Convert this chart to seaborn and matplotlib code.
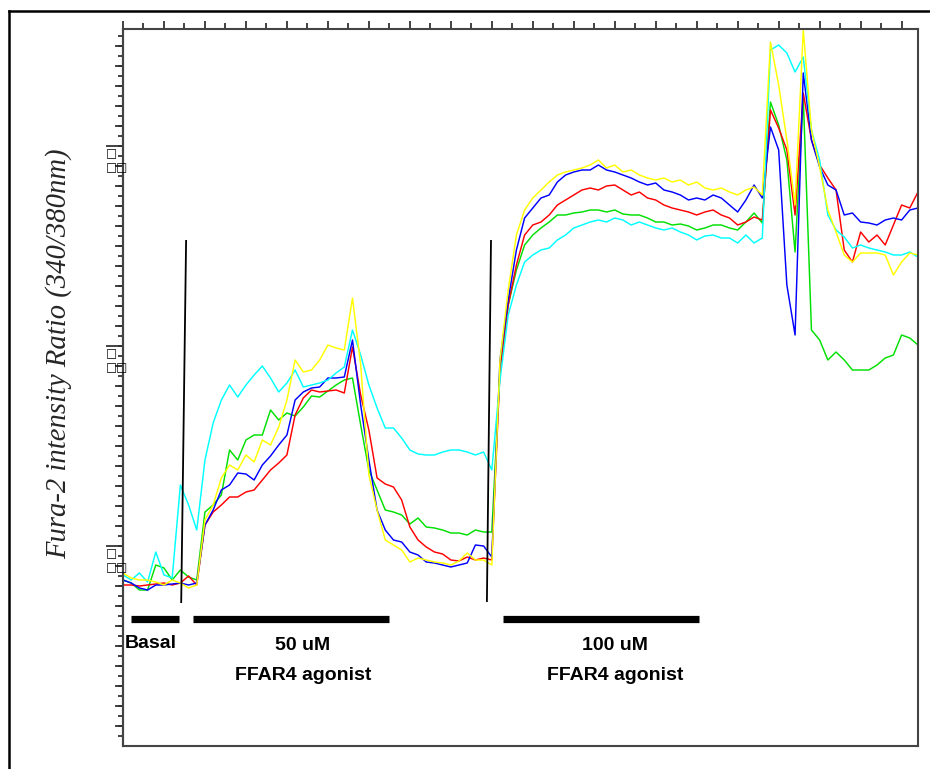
import numpy as np
import pandas as pd
import matplotlib
matplotlib.use("Agg")
import matplotlib.pyplot as plt
from matplotlib.lines import Line2D
from matplotlib.ticker import MultipleLocator, NullFormatter, FixedLocator
import matplotlib.transforms as mtransforms
import seaborn as sns

# ---------------- data (frame index vs Fura-2 340/380 ratio) ----------------
frames = list(range(0, 196, 2))

yellow = [0.573, 0.568, 0.566, 0.566, 0.564, 0.561, 0.566, 0.563, 0.558, 0.561,
          0.626, 0.641, 0.668, 0.681, 0.676, 0.691, 0.684, 0.706, 0.701, 0.719,
          0.746, 0.786, 0.774, 0.776, 0.786, 0.801, 0.798, 0.796, 0.848, 0.781,
          0.671, 0.636, 0.606, 0.601, 0.596, 0.584, 0.588, 0.586, 0.584, 0.583,
          0.581, 0.585, 0.593, 0.586, 0.586, 0.581, 0.786, 0.856, 0.911, 0.936,
          0.948, 0.956, 0.964, 0.971, 0.974, 0.976, 0.978, 0.981, 0.986, 0.978,
          0.981, 0.974, 0.976, 0.971, 0.968, 0.966, 0.968, 0.964, 0.966, 0.961,
          0.964, 0.958, 0.956, 0.958, 0.954, 0.951, 0.956, 0.959, 0.951, 1.104,
          1.061, 1.006, 0.941, 1.116, 1.016, 0.979, 0.936, 0.914, 0.891, 0.884,
          0.893, 0.893, 0.893, 0.891, 0.871, 0.884, 0.893, 0.891]

blue = [0.566, 0.563, 0.558, 0.556, 0.561, 0.561, 0.562, 0.563, 0.561, 0.563,
        0.621, 0.636, 0.656, 0.661, 0.673, 0.672, 0.666, 0.681, 0.690, 0.701,
        0.711, 0.746, 0.754, 0.758, 0.759, 0.768, 0.768, 0.769, 0.806, 0.741,
        0.686, 0.636, 0.616, 0.606, 0.604, 0.594, 0.591, 0.584, 0.583, 0.581,
        0.579, 0.581, 0.583, 0.601, 0.600, 0.589, 0.786, 0.846, 0.896, 0.928,
        0.938, 0.948, 0.951, 0.964, 0.971, 0.974, 0.976, 0.976, 0.981, 0.976,
        0.974, 0.971, 0.968, 0.964, 0.961, 0.963, 0.956, 0.954, 0.951, 0.946,
        0.948, 0.946, 0.951, 0.948, 0.941, 0.934, 0.946, 0.961, 0.948, 1.019,
        0.996, 0.861, 0.811, 1.073, 1.006, 0.979, 0.961, 0.956, 0.931, 0.933,
        0.924, 0.923, 0.921, 0.926, 0.928, 0.926, 0.936, 0.938]

red = [0.561, 0.561, 0.560, 0.561, 0.562, 0.563, 0.561, 0.563, 0.570, 0.561,
       0.621, 0.634, 0.641, 0.649, 0.649, 0.654, 0.656, 0.666, 0.676, 0.683,
       0.691, 0.731, 0.748, 0.756, 0.754, 0.755, 0.756, 0.753, 0.799, 0.751,
       0.716, 0.668, 0.662, 0.659, 0.646, 0.619, 0.606, 0.599, 0.594, 0.592,
       0.586, 0.585, 0.589, 0.586, 0.588, 0.586, 0.776, 0.841, 0.881, 0.911,
       0.921, 0.924, 0.931, 0.941, 0.946, 0.951, 0.956, 0.958, 0.956, 0.960,
       0.961, 0.956, 0.951, 0.954, 0.948, 0.946, 0.941, 0.938, 0.936, 0.934,
       0.931, 0.934, 0.936, 0.931, 0.928, 0.921, 0.924, 0.929, 0.926, 1.036,
       1.018, 0.996, 0.931, 1.053, 1.006, 0.981, 0.968, 0.956, 0.896, 0.884,
       0.914, 0.904, 0.911, 0.901, 0.921, 0.941, 0.938, 0.954]

green = [0.566, 0.563, 0.556, 0.556, 0.581, 0.578, 0.566, 0.576, 0.569, 0.566,
         0.634, 0.641, 0.651, 0.696, 0.686, 0.706, 0.711, 0.711, 0.736, 0.726,
         0.733, 0.730, 0.739, 0.750, 0.749, 0.755, 0.761, 0.766, 0.768, 0.721,
         0.676, 0.656, 0.636, 0.634, 0.631, 0.622, 0.628, 0.619, 0.618, 0.616,
         0.613, 0.613, 0.611, 0.616, 0.614, 0.614, 0.776, 0.841, 0.876, 0.901,
         0.911, 0.918, 0.924, 0.931, 0.931, 0.933, 0.934, 0.936, 0.936, 0.934,
         0.936, 0.932, 0.931, 0.931, 0.928, 0.924, 0.924, 0.921, 0.922, 0.920,
         0.916, 0.918, 0.921, 0.921, 0.918, 0.916, 0.924, 0.933, 0.923, 1.044,
         1.021, 0.986, 0.894, 1.049, 0.816, 0.806, 0.786, 0.794, 0.786, 0.776,
         0.776, 0.776, 0.781, 0.788, 0.791, 0.811, 0.808, 0.801]

cyan = [0.571, 0.566, 0.573, 0.564, 0.594, 0.571, 0.568, 0.661, 0.641, 0.616,
        0.686, 0.723, 0.746, 0.761, 0.749, 0.761, 0.771, 0.780, 0.768, 0.754,
        0.763, 0.776, 0.759, 0.761, 0.763, 0.766, 0.773, 0.779, 0.816, 0.791,
        0.761, 0.738, 0.718, 0.718, 0.708, 0.696, 0.692, 0.691, 0.691, 0.694,
        0.696, 0.696, 0.694, 0.691, 0.694, 0.676, 0.766, 0.831, 0.861, 0.884,
        0.891, 0.896, 0.898, 0.906, 0.911, 0.918, 0.921, 0.924, 0.926, 0.924,
        0.928, 0.926, 0.921, 0.924, 0.921, 0.918, 0.916, 0.918, 0.914, 0.911,
        0.906, 0.910, 0.911, 0.908, 0.908, 0.903, 0.911, 0.903, 0.908, 1.096,
        1.101, 1.093, 1.074, 1.089, 1.016, 0.986, 0.931, 0.916, 0.909, 0.898,
        0.901, 0.898, 0.896, 0.894, 0.891, 0.891, 0.894, 0.889]

cells = ["green", "red", "blue", "cyan", "yellow"]
series = {"yellow": yellow, "blue": blue, "red": red, "green": green, "cyan": cyan}
palette = {"yellow": "#ffff00", "blue": "#0000ff", "red": "#ff0000",
           "green": "#00e000", "cyan": "#00ffff"}

# annotations
major_yticks = [0.6, 0.8, 1.0]
event_lines = [((15.4, 0.906), (14.2, 0.543)), ((89.8, 0.906), (88.8, 0.544))]
bar_level = 0.527
bar_spans = [(1.95, 13.7), (17.1, 64.9), (92.7, 140.5)]
bar_texts = [("Basal", 6.8, 0.502), ("50 uM", 43.9, 0.500), ("FFAR4 agonist", 43.9, 0.471),
             ("100 uM", 120.0, 0.500), ("FFAR4 agonist", 120.0, 0.471)]
ylabel = "Fura-2 intensity Ratio (340/380nm)"

# ---------------- figure ----------------
sns.set_style("white")
plt.rcParams['font.family'] = ['DejaVu Sans']

W, H = 930, 769
fig = plt.figure(figsize=(W / 100, H / 100), dpi=100)
ax = fig.add_axes([123 / W, 1 - 746 / H, (918 - 123) / W, (746 - 29) / H])

rows = []
for c in cells:
    for f, v in zip(frames, series[c]):
        rows.append({"frame": f, "ratio": v, "cell": c})
df = pd.DataFrame(rows)

sns.lineplot(data=df, x="frame", y="ratio", hue="cell", hue_order=cells,
             palette=palette, estimator=None, sort=False, linewidth=1.05,
             legend=False, ax=ax)

ax.set_xlim(0, 194)
ax.set_ylim(0.400, 1.117)
ax.set_xlabel("")
ax.set_ylabel("")

spine_col = "#444444"
for s in ax.spines.values():
    s.set_visible(True)
    s.set_color(spine_col)
    s.set_linewidth(1.5)

# top ticks
ax.xaxis.set_ticks_position("top")
ax.xaxis.set_major_locator(MultipleLocator(10))
ax.xaxis.set_minor_locator(MultipleLocator(5))
ax.tick_params(axis="x", which="major", direction="out", length=6, width=1.3,
               color="#333333", labeltop=False, labelbottom=False, top=True, bottom=False)
ax.tick_params(axis="x", which="minor", direction="out", length=4, width=1.3,
               color="#333333", top=True, bottom=False)

# left ticks
ax.yaxis.set_ticks_position("left")
ax.yaxis.set_major_locator(FixedLocator(major_yticks))
ax.yaxis.set_minor_locator(FixedLocator(np.arange(0.42, 1.12, 0.02)))
ax.tick_params(axis="y", which="major", direction="out", length=12.5, width=1.3,
               color="#333333", labelleft=False, left=True, right=False)
ax.tick_params(axis="y", which="minor", direction="out", length=6, width=1.3,
               color="#333333", left=True, right=False)
sec = ax.secondary_yaxis("left")
sec.yaxis.set_major_locator(FixedLocator(np.arange(0.41, 1.12, 0.01)))
sec.yaxis.set_major_formatter(NullFormatter())
sec.tick_params(axis="y", which="major", direction="out", length=3.5, width=1.3,
                color="#333333")
sec.spines["left"].set_color(spine_col)
sec.spines["left"].set_linewidth(1.5)

# garbled tick labels (rendered as boxes in the source)
trans = mtransforms.blended_transform_factory(ax.transAxes, ax.transData)
for v in major_yticks:
    ax.text(-0.0215, v - 0.0145, "\u25a1\n\u25a1\u25a1", transform=trans, ha="left",
            va="center", fontsize=8.5, fontweight="bold", linespacing=1.1,
            multialignment="left", color="black", clip_on=False)

# stimulus event lines
for (x0, y0), (x1, y1) in event_lines:
    ax.plot([x0, x1], [y0, y1], color="black", lw=1.3, solid_capstyle="butt")

# bars
for a, b in bar_spans:
    ax.plot([a, b], [bar_level, bar_level], color="black", lw=5.2, solid_capstyle="butt")
for txt, x, y in bar_texts:
    ax.text(x, y, txt, ha="center", va="center", fontsize=14, fontweight="bold",
            family=["Liberation Sans", "DejaVu Sans"], color="black")

# y label
fig.text(59 / W, 1 - 354 / H, ylabel, rotation=90, ha="center", va="center",
         family=["Liberation Serif", "DejaVu Serif"], style="italic", fontsize=20.6)

# outer frame (top and left)
fig.add_artist(Line2D([9 / W, 9 / W], [0, 1 - 11 / H], transform=fig.transFigure,
                      color="black", lw=1.8, solid_capstyle="projecting"))
fig.add_artist(Line2D([9 / W, 1], [1 - 11 / H, 1 - 11 / H], transform=fig.transFigure,
                      color="black", lw=1.8, solid_capstyle="projecting"))

fig.savefig("out.png", dpi=100, facecolor="white")
